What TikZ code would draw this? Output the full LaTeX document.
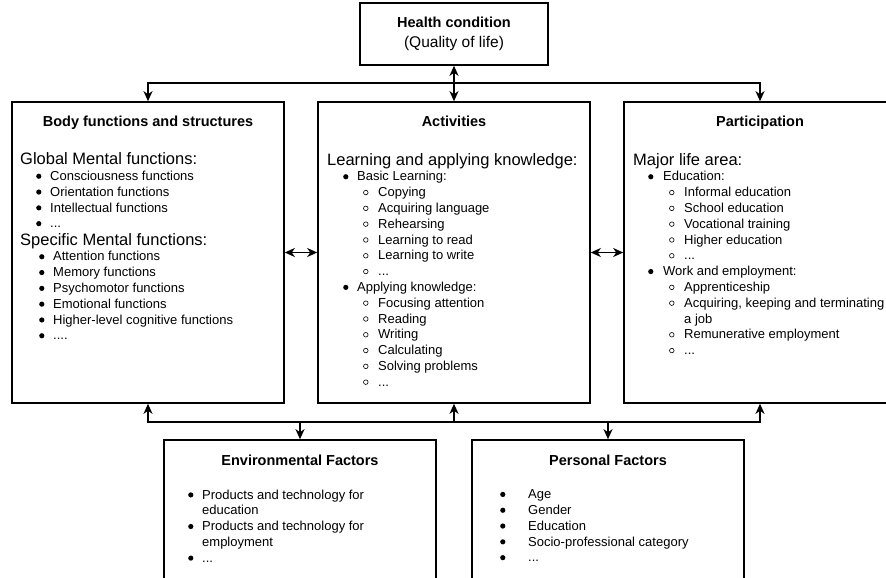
\documentclass[tikz,border=0pt]{standalone}
\usepackage{fontspec}
\setmainfont{Liberation Sans}
\usetikzlibrary{arrows.meta}

\tikzset{box/.style={draw,inner sep=0pt,minimum width=272pt},
}
\newcommand\hd[1]{{\fontsize{16.5}{18}\selectfont #1}}
\newcommand\blt{\tikz[baseline=-4.2pt]\fill (0,0) circle (2.6pt);}
\newcommand\cblt{\tikz[baseline=-4.2pt]\draw[line width=0.6pt] (0,0) circle (2.3pt);}
\newcommand\dotitem[3]{\hspace*{#1pt}\makebox[#2pt][l]{\blt}#3}
\newcommand\circitem[1]{\hspace*{36pt}\makebox[15pt][l]{\cblt}#1}

\begin{document}
\begin{tikzpicture}[x=1pt,y=-1pt,<->,>={Stealth[length=10pt,width=9pt,inset=3pt]},line width=1.6pt,
		title/.style={font=\fontsize{14.5}{17}\selectfont\bfseries,anchor=base,inner sep=0pt},
		list/.style={font=\fontsize{13}{15.8}\selectfont,align=left,anchor=north west,inner sep=0pt}]
		\useasboundingbox (0,0) rectangle (886,578);
		\clip (0,0) rectangle (886,578);
		
		% boxes
		\node[box,minimum width=188pt,minimum height=62pt,align=center,font=\fontsize{15.5}{20}\selectfont]
			(health) at (454,34) {{\fontsize{14.5}{20}\selectfont\bfseries Health condition}\\(Quality of life)};
		\node[box,minimum height=301pt] (body) at (148,252.5) {};
		\node[box,minimum height=301pt] (act) at (454,252.5) {};
		\node[box,minimum height=301pt] (part) at (760,252.5) {};
		\node[box,minimum height=139pt] (env) at (300,509.5) {};
		\node[box,minimum height=139pt] (pers) at (608,509.5) {};
		
		% titles
		\node[title] (bodytitle) at (148,126) {Body functions and structures};
		\node[title] (acttitle) at (454,126) {Activities};
		\node[title] (parttitle) at (760,126) {Participation};
		\node[title] (envtitle) at (300,465) {Environmental Factors};
		\node[title] (perstitle) at (608,465) {Personal Factors};
		
		% lists
		\node[list] (bodylist) at (20,152.5) {\hd{Global Mental functions:}\\
			\dotitem{16}{14}{Consciousness functions}\\
			\dotitem{16}{14}{Orientation functions}\\
			\dotitem{16}{14}{Intellectual functions}\\
			\dotitem{16}{14}{...}\\[1.5pt]
			\hd{Specific Mental functions:}\\
			\dotitem{19}{14}{Attention functions}\\
			\dotitem{19}{14}{Memory functions}\\
			\dotitem{19}{14}{Psychomotor functions}\\
			\dotitem{19}{14}{Emotional functions}\\
			\dotitem{19}{14}{Higher-level cognitive functions}\\
			\dotitem{19}{14}{....}};
		\node[list] (actlist) at (327,153) {\hd{Learning and applying knowledge:}\\
			\dotitem{16}{14}{Basic Learning:}\\
			\circitem{Copying}\\
			\circitem{Acquiring language}\\
			\circitem{Rehearsing}\\
			\circitem{Learning to read}\\
			\circitem{Learning to write}\\
			\circitem{...}\\
			\dotitem{16}{14}{Applying knowledge:}\\
			\circitem{Focusing attention}\\
			\circitem{Reading}\\
			\circitem{Writing}\\
			\circitem{Calculating}\\
			\circitem{Solving problems}\\
			\circitem{...}};
		\node[list] (partlist) at (633,153) {\hd{Major life area:}\\
			\dotitem{15}{15}{Education:}\\
			\circitem{Informal education}\\
			\circitem{School education}\\
			\circitem{Vocational training}\\
			\circitem{Higher education}\\
			\circitem{...}\\
			\dotitem{15}{15}{Work and employment:}\\
			\circitem{Apprenticeship}\\
			\circitem{Acquiring, keeping and terminating}\\
			\hspace*{51pt}a job\\
			\circitem{Remunerative employment}\\
			\circitem{...}};
		\node[list] (envlist) at (188,489.5) {\dotitem{0}{14}{Products and technology for}\\
			\hspace*{14pt}education\\
			\dotitem{0}{14}{Products and technology for}\\
			\hspace*{14pt}employment\\
			\dotitem{0}{14}{...}};
		\node[list] (perslist) at (500,489.5) {\dotitem{0}{28}{Age}\\
			\dotitem{0}{28}{Gender}\\
			\dotitem{0}{28}{Education}\\
			\dotitem{0}{28}{Socio-professional category}\\
			\dotitem{0}{28}{...}};
		
		% connectors
		\coordinate (top) at (454,83);
		\coordinate (bot) at (454,422);
		\draw (health) -- (act);
		\draw (body.north) |- (top) -| (part.north);
		\draw (body) -- (act);
		\draw (act) -- (part);
		\draw (body.south) |- (bot) -| (part.south);
		\draw[->] (bot) -- (act.south);
		\draw[->] (bot -| env.north) -- (env.north);
		\draw[->] (bot -| pers.north) -- (pers.north);
\end{tikzpicture}
\end{document}
